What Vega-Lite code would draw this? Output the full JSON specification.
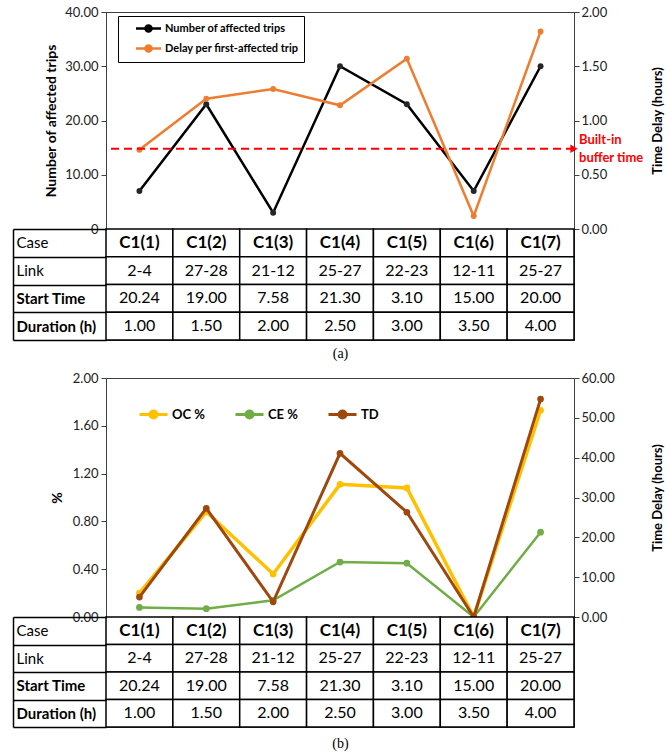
{
  "$schema": "https://vega.github.io/schema/vega-lite/v6.json",
  "padding": {"left": 11, "top": 4, "right": 0, "bottom": 0},
  "config": {
    "font": "Lato",
    "view": {"stroke": "#404040", "strokeWidth": 1},
    "axis": {"labelFont": "Lato", "titleFont": "Lato", "labelColor": "#222", "titleColor": "black", "grid": false, "tickColor": "#404040", "domainColor": "#404040"}
  },
  "datasets": {
    "a": [
      {"Case": "C1(1)", "series": "Number of affected trips", "value": 7},
      {"Case": "C1(2)", "series": "Number of affected trips", "value": 23},
      {"Case": "C1(3)", "series": "Number of affected trips", "value": 3},
      {"Case": "C1(4)", "series": "Number of affected trips", "value": 30},
      {"Case": "C1(5)", "series": "Number of affected trips", "value": 23},
      {"Case": "C1(6)", "series": "Number of affected trips", "value": 7},
      {"Case": "C1(7)", "series": "Number of affected trips", "value": 30},
      {"Case": "C1(1)", "series": "Delay per first-affected trip", "value": 0.73},
      {"Case": "C1(2)", "series": "Delay per first-affected trip", "value": 1.2},
      {"Case": "C1(3)", "series": "Delay per first-affected trip", "value": 1.29},
      {"Case": "C1(4)", "series": "Delay per first-affected trip", "value": 1.14},
      {"Case": "C1(5)", "series": "Delay per first-affected trip", "value": 1.57},
      {"Case": "C1(6)", "series": "Delay per first-affected trip", "value": 0.12},
      {"Case": "C1(7)", "series": "Delay per first-affected trip", "value": 1.82}
    ],
    "b": [
      {"Case": "C1(1)", "series": "OC %", "value": 0.2},
      {"Case": "C1(2)", "series": "OC %", "value": 0.88},
      {"Case": "C1(3)", "series": "OC %", "value": 0.36},
      {"Case": "C1(4)", "series": "OC %", "value": 1.11},
      {"Case": "C1(5)", "series": "OC %", "value": 1.08},
      {"Case": "C1(6)", "series": "OC %", "value": 0.0},
      {"Case": "C1(7)", "series": "OC %", "value": 1.73},
      {"Case": "C1(1)", "series": "CE %", "value": 0.08},
      {"Case": "C1(2)", "series": "CE %", "value": 0.07},
      {"Case": "C1(3)", "series": "CE %", "value": 0.14},
      {"Case": "C1(4)", "series": "CE %", "value": 0.46},
      {"Case": "C1(5)", "series": "CE %", "value": 0.45},
      {"Case": "C1(6)", "series": "CE %", "value": 0.0},
      {"Case": "C1(7)", "series": "CE %", "value": 0.71},
      {"Case": "C1(1)", "series": "TD", "value": 5.0},
      {"Case": "C1(2)", "series": "TD", "value": 27.3},
      {"Case": "C1(3)", "series": "TD", "value": 3.8},
      {"Case": "C1(4)", "series": "TD", "value": 41.1},
      {"Case": "C1(5)", "series": "TD", "value": 26.3},
      {"Case": "C1(6)", "series": "TD", "value": 0.0},
      {"Case": "C1(7)", "series": "TD", "value": 54.7}
    ],
    "tbl": [
      {"Case": "C1(1)", "Link": "2-4", "Start Time": "20.24", "Duration (h)": "1.00"},
      {"Case": "C1(2)", "Link": "27-28", "Start Time": "19.00", "Duration (h)": "1.50"},
      {"Case": "C1(3)", "Link": "21-12", "Start Time": "7.58", "Duration (h)": "2.00"},
      {"Case": "C1(4)", "Link": "25-27", "Start Time": "21.30", "Duration (h)": "2.50"},
      {"Case": "C1(5)", "Link": "22-23", "Start Time": "3.10", "Duration (h)": "3.00"},
      {"Case": "C1(6)", "Link": "12-11", "Start Time": "15.00", "Duration (h)": "3.50"},
      {"Case": "C1(7)", "Link": "25-27", "Start Time": "20.00", "Duration (h)": "4.00"}
    ]
  },
  "resolve": {"scale": {"stroke": "independent", "fill": "independent"}},
  "spacing": 9,
  "vconcat": [
    {
      "width": 468,
      "height": 328,
      "resolve": {"scale": {"y": "independent"}},
      "layer": [
        {
          "data": {"name": "a"},
          "transform": [{"filter": "datum.series == 'Number of affected trips'"}],
          "encoding": {
            "x": {"field": "Case", "type": "nominal", "sort": null, "scale": {"type": "band", "paddingInner": 0, "paddingOuter": 0, "domain": ["C1(1)", "C1(2)", "C1(3)", "C1(4)", "C1(5)", "C1(6)", "C1(7)"]}, "axis": {"title": "(a)", "labels": false, "ticks": false, "domain": false, "titleFont": "Liberation Serif", "titleFontWeight": "normal", "titleFontSize": 14, "titlePadding": 6}},
            "y": {"field": "value", "type": "quantitative", "scale": {"domain": [0, 40], "range": [217, 0], "nice": false, "zero": false}, "axis": {"title": "Number of affected trips", "titleFontSize": 14, "titleFontWeight": "bold", "titlePadding": 6, "values": [0, 10, 20, 30, 40], "labelExpr": "datum.value == 0 ? '0' : format(datum.value, '.2f')", "labelFontSize": 13, "tickSize": 5, "labelPadding": 3}}
          },
          "layer": [
            {"mark": {"type": "line", "strokeWidth": 2.5}, "encoding": {"stroke": {"field": "series", "type": "nominal", "scale": {"domain": ["Number of affected trips", "Delay per first-affected trip"], "range": ["#000000", "#ED7D31"]}, "legend": {"title": null, "orient": "none", "legendX": 12, "legendY": 4, "direction": "vertical", "strokeColor": "black", "fillColor": "white", "padding": 5, "symbolType": "M-2,0L2,0M0.48,0A0.48,0.48,0,1,1,-0.48,0A0.48,0.48,0,1,1,0.48,0Z", "symbolSize": 156, "symbolStrokeWidth": 2.5, "labelFont": "Lato", "labelFontSize": 11, "labelFontWeight": "bold", "labelColor": "black", "labelOffset": 9, "rowPadding": 3, "symbolOffset": 18}}}},
            {"mark": {"type": "point", "filled": true, "size": 35, "opacity": 1}, "encoding": {"fill": {"field": "series", "type": "nominal", "scale": {"domain": ["Number of affected trips", "Delay per first-affected trip"], "range": ["#262626", "#ED7D31"]}, "legend": {"title": null, "orient": "none", "legendX": 12, "legendY": 4, "direction": "vertical", "strokeColor": "black", "fillColor": "white", "padding": 5, "symbolType": "M-2,0L2,0M0.48,0A0.48,0.48,0,1,1,-0.48,0A0.48,0.48,0,1,1,0.48,0Z", "symbolSize": 156, "symbolStrokeWidth": 2.5, "labelFont": "Lato", "labelFontSize": 11, "labelFontWeight": "bold", "labelColor": "black", "labelOffset": 9, "rowPadding": 3, "symbolOffset": 18}}}}
          ]
        },
        {
          "encoding": {
            "y": {"field": "value", "type": "quantitative", "scale": {"domain": [0, 2], "range": [217, 0], "nice": false, "zero": false}, "axis": {"orient": "right", "title": "Time Delay (hours)", "titleFontSize": 13, "titleFontWeight": "bold", "titleAngle": 270, "titleBaseline": "top", "titlePadding": 45, "values": [0, 0.5, 1, 1.5, 2], "format": ".2f", "labelFontSize": 13, "tickSize": 5, "labelPadding": 2}}
          },
          "layer": [
            {"data": {"name": "a"}, "transform": [{"filter": "datum.series == 'Delay per first-affected trip'"}], "mark": {"type": "line", "strokeWidth": 2.5}, "encoding": {"x": {"field": "Case", "type": "nominal", "scale": {"type": "band"}}, "stroke": {"field": "series", "type": "nominal"}}},
            {"data": {"name": "a"}, "transform": [{"filter": "datum.series == 'Delay per first-affected trip'"}], "mark": {"type": "point", "filled": true, "size": 35, "opacity": 1}, "encoding": {"x": {"field": "Case", "type": "nominal", "scale": {"type": "band"}}, "fill": {"field": "series", "type": "nominal"}}},
            {"data": {"values": [{"value": 0.74, "label": "Built-in\nbuffer time"}]}, "mark": {"type": "rule", "color": "#FF0000", "strokeWidth": 2, "strokeDash": [8, 5]}, "encoding": {}},
            {"data": {"values": [{"value": 0.74, "label": "Built-in\nbuffer time"}]}, "mark": {"type": "point", "shape": "triangle-right", "filled": true, "color": "#FF0000", "size": 70, "opacity": 1}, "encoding": {"x": {"datum": "C1(7)", "type": "nominal", "bandPosition": 1, "scale": {"type": "band"}}}},
            {"data": {"values": [{"value": 0.74, "label": "Built-in\nbuffer time"}]}, "mark": {"type": "text", "align": "left", "baseline": "middle", "dx": 5, "dy": -9, "lineBreak": "\n", "lineHeight": 18, "font": "Lato", "fontWeight": "bold", "fontSize": 13, "color": "#FF0000"}, "encoding": {"x": {"datum": "C1(7)", "type": "nominal", "bandPosition": 1, "scale": {"type": "band"}}, "text": {"field": "label"}}}
          ]
        },
        {
          "data": {"name": "tbl"},
          "transform": [{"fold": ["Case", "Link", "Start Time", "Duration (h)"], "as": ["row", "val"]}],
          "encoding": {
            "x": {"field": "Case", "type": "nominal", "scale": {"type": "band"}},
            "y": {"field": "row", "type": "nominal", "scale": {"type": "band", "domain": ["Case", "Link", "Start Time", "Duration (h)"], "range": [217, 328], "paddingInner": 0, "paddingOuter": 0}, "axis": {"orient": "left", "title": null, "offset": 93, "tickSize": -93, "tickBand": "extent", "tickWidth": 1.5, "tickColor": "black", "domainColor": "black", "domainWidth": 1.5, "labelAlign": "left", "labelBaseline": "middle", "labelPadding": 90, "labelFontSize": 15, "labelColor": "black", "labelOverlap": false, "labelFontWeight": {"condition": {"test": "datum.value == 'Case' || datum.value == 'Link'", "value": "normal"}, "value": "bold"}}}
          },
          "layer": [
            {"mark": {"type": "rect", "fill": "white", "stroke": "black", "strokeWidth": 1.5}},
            {"transform": [{"filter": "datum.row == 'Case'"}], "mark": {"type": "text", "font": "Lato", "fontSize": 17, "fontWeight": "bold", "color": "black"}, "encoding": {"text": {"field": "val"}}},
            {"transform": [{"filter": "datum.row != 'Case'"}], "mark": {"type": "text", "font": "Lato", "fontSize": 16, "color": "black"}, "encoding": {"text": {"field": "val"}}}
          ]
        }
      ]
    },
    {
      "width": 468,
      "height": 349,
      "resolve": {"scale": {"y": "independent"}},
      "layer": [
        {
          "data": {"name": "b"},
          "transform": [{"filter": "datum.series != 'TD'"}],
          "encoding": {
            "x": {"field": "Case", "type": "nominal", "sort": null, "scale": {"type": "band", "paddingInner": 0, "paddingOuter": 0, "domain": ["C1(1)", "C1(2)", "C1(3)", "C1(4)", "C1(5)", "C1(6)", "C1(7)"]}, "axis": {"title": "(b)", "labels": false, "ticks": false, "domain": false, "titleFont": "Liberation Serif", "titleFontWeight": "normal", "titleFontSize": 14, "titlePadding": 9}},
            "y": {"field": "value", "type": "quantitative", "scale": {"domain": [0, 2], "range": [239, 0], "nice": false, "zero": false}, "axis": {"title": "%", "titleFontSize": 14, "titleFontWeight": "bold", "titlePadding": 8, "values": [0, 0.4, 0.8, 1.2, 1.6, 2.0], "format": ".2f", "labelFontSize": 13, "tickSize": 5, "labelPadding": 3}}
          },
          "layer": [
            {"transform": [{"filter": "datum.series == 'OC %'"}], "mark": {"type": "line", "strokeWidth": 3.5}, "encoding": {"stroke": {"field": "series", "type": "nominal", "scale": {"domain": ["OC %", "CE %", "TD"], "range": ["#FFC000", "#70AD47", "#9E480E"]}, "legend": {"title": null, "orient": "none", "legendX": 32, "legendY": 21, "direction": "horizontal", "columns": 3, "padding": 0, "columnPadding": 24, "symbolType": "M-1,0L1,0M0.25,0A0.25,0.25,0,1,1,-0.25,0A0.25,0.25,0,1,1,0.25,0Z", "symbolSize": 784, "symbolStrokeWidth": 3, "labelFont": "Lato", "labelFontSize": 13, "labelFontWeight": "bold", "labelColor": "black", "labelOffset": 3}}}},
            {"transform": [{"filter": "datum.series == 'CE %'"}], "mark": {"type": "line", "strokeWidth": 2.5}, "encoding": {"stroke": {"field": "series", "type": "nominal"}}},
            {"mark": {"type": "point", "filled": true, "size": 45, "opacity": 1}, "encoding": {"fill": {"field": "series", "type": "nominal", "scale": {"domain": ["OC %", "CE %", "TD"], "range": ["#FFC000", "#70AD47", "#9E480E"]}, "legend": {"title": null, "orient": "none", "legendX": 32, "legendY": 21, "direction": "horizontal", "columns": 3, "padding": 0, "columnPadding": 24, "symbolType": "M-1,0L1,0M0.25,0A0.25,0.25,0,1,1,-0.25,0A0.25,0.25,0,1,1,0.25,0Z", "symbolSize": 784, "symbolStrokeWidth": 3, "labelFont": "Lato", "labelFontSize": 13, "labelFontWeight": "bold", "labelColor": "black", "labelOffset": 3}}}}
          ]
        },
        {
          "data": {"name": "b"},
          "transform": [{"filter": "datum.series == 'TD'"}],
          "encoding": {
            "x": {"field": "Case", "type": "nominal", "scale": {"type": "band"}},
            "y": {"field": "value", "type": "quantitative", "scale": {"domain": [0, 60], "range": [239, 0], "nice": false, "zero": false}, "axis": {"orient": "right", "title": "Time Delay (hours)", "titleFontSize": 13, "titleFontWeight": "bold", "titleAngle": 270, "titleBaseline": "top", "titlePadding": 37, "values": [0, 10, 20, 30, 40, 50, 60], "format": ".2f", "labelFontSize": 13, "tickSize": 5, "labelPadding": 2}}
          },
          "layer": [
            {"mark": {"type": "line", "strokeWidth": 3}, "encoding": {"stroke": {"field": "series", "type": "nominal"}}},
            {"mark": {"type": "point", "filled": true, "size": 45, "opacity": 1}, "encoding": {"fill": {"field": "series", "type": "nominal"}}}
          ]
        },
        {
          "data": {"name": "tbl"},
          "transform": [{"fold": ["Case", "Link", "Start Time", "Duration (h)"], "as": ["row", "val"]}],
          "encoding": {
            "x": {"field": "Case", "type": "nominal", "scale": {"type": "band"}},
            "y": {"field": "row", "type": "nominal", "scale": {"type": "band", "domain": ["Case", "Link", "Start Time", "Duration (h)"], "range": [239, 349], "paddingInner": 0, "paddingOuter": 0}, "axis": {"orient": "left", "title": null, "offset": 93, "tickSize": -93, "tickBand": "extent", "tickWidth": 1.5, "tickColor": "black", "domainColor": "black", "domainWidth": 1.5, "labelAlign": "left", "labelBaseline": "middle", "labelPadding": 90, "labelFontSize": 15, "labelColor": "black", "labelOverlap": false, "labelFontWeight": {"condition": {"test": "datum.value == 'Case' || datum.value == 'Link'", "value": "normal"}, "value": "bold"}}}
          },
          "layer": [
            {"mark": {"type": "rect", "fill": "white", "stroke": "black", "strokeWidth": 1.5}},
            {"transform": [{"filter": "datum.row == 'Case'"}], "mark": {"type": "text", "font": "Lato", "fontSize": 17, "fontWeight": "bold", "color": "black"}, "encoding": {"text": {"field": "val"}}},
            {"transform": [{"filter": "datum.row != 'Case'"}], "mark": {"type": "text", "font": "Lato", "fontSize": 16, "color": "black"}, "encoding": {"text": {"field": "val"}}}
          ]
        }
      ]
    }
  ]
}
